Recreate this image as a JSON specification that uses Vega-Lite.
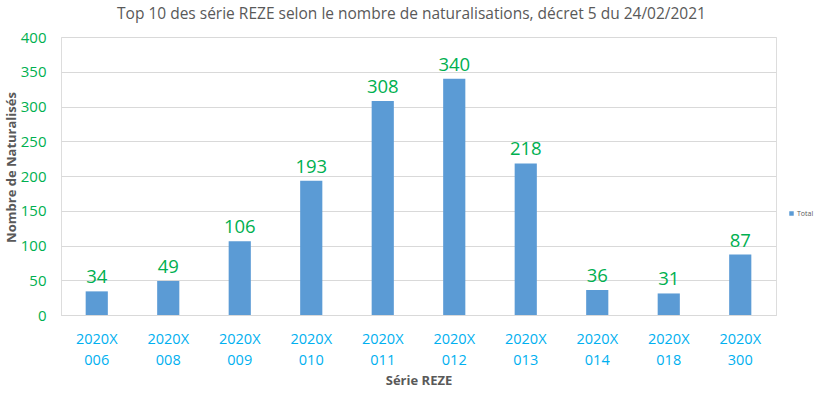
{
  "$schema": "https://vega.github.io/schema/vega-lite/v6.json",
  "width": 715,
  "height": 278,
  "autosize": {"type": "none"},
  "padding": {"left": 61, "top": 37, "right": 46, "bottom": 84},
  "background": "white",
  "title": {
    "text": "Top 10 des série REZE selon le nombre de naturalisations, décret 5 du 24/02/2021",
    "font": "Open Sans",
    "fontSize": 15.5,
    "fontWeight": "normal",
    "color": "#595959",
    "offset": 8,
    "dx": -7
  },
  "data": {
    "values": [
      {"serie": "2020X 006", "total": 34, "legend": "Total"},
      {"serie": "2020X 008", "total": 49, "legend": "Total"},
      {"serie": "2020X 009", "total": 106, "legend": "Total"},
      {"serie": "2020X 010", "total": 193, "legend": "Total"},
      {"serie": "2020X 011", "total": 308, "legend": "Total"},
      {"serie": "2020X 012", "total": 340, "legend": "Total"},
      {"serie": "2020X 013", "total": 218, "legend": "Total"},
      {"serie": "2020X 014", "total": 36, "legend": "Total"},
      {"serie": "2020X 018", "total": 31, "legend": "Total"},
      {"serie": "2020X 300", "total": 87, "legend": "Total"}
    ]
  },
  "encoding": {
    "x": {
      "field": "serie",
      "type": "nominal",
      "sort": null,
      "scale": {"paddingInner": 0.69, "paddingOuter": 0.345},
      "axis": {
        "title": "Série REZE",
        "titleFont": "Open Sans",
        "titleFontSize": 13,
        "titleFontWeight": "bold",
        "titleColor": "#595959",
        "titlePadding": 8,
        "labelExpr": "split(datum.label, ' ')",
        "labelAngle": 0,
        "labelFont": "Open Sans",
        "labelFontSize": 14.5,
        "labelColor": "#00B0F0",
        "labelLineHeight": 21,
        "labelPadding": 17,
        "labelBaseline": "top",
        "ticks": false,
        "domainColor": "#D9D9D9",
        "domainWidth": 1,
        "grid": false
      }
    },
    "y": {
      "field": "total",
      "type": "quantitative",
      "scale": {"domain": [0, 400], "nice": false},
      "axis": {
        "title": "Nombre de Naturalisés",
        "titleFont": "Open Sans",
        "titleFontSize": 13,
        "titleFontWeight": "bold",
        "titleColor": "#595959",
        "titlePadding": 2,
        "titleY": 130,
        "values": [0, 50, 100, 150, 200, 250, 300, 350, 400],
        "labelFont": "Open Sans",
        "labelFontSize": 15,
        "labelColor": "#00B050",
        "labelPadding": 15,
        "ticks": false,
        "domain": false,
        "grid": true,
        "gridColor": "#D9D9D9",
        "gridWidth": 1
      }
    }
  },
  "layer": [
    {
      "mark": {"type": "bar", "color": "#5B9BD5"},
      "encoding": {
        "color": {
          "field": "legend",
          "type": "nominal",
          "scale": {"range": ["#5B9BD5"]},
          "legend": {
            "title": null,
            "orient": "none",
            "legendX": 727,
            "legendY": 173,
            "symbolType": "square",
            "symbolSize": 20,
            "labelFont": "Open Sans",
            "labelFontSize": 7,
            "labelColor": "#595959",
            "labelOffset": 2
          }
        }
      }
    },
    {
      "mark": {
        "type": "text",
        "baseline": "bottom",
        "dy": -4,
        "font": "Open Sans",
        "fontSize": 18.5,
        "color": "#00B050"
      },
      "encoding": {"text": {"field": "total", "type": "quantitative"}}
    }
  ]
}
